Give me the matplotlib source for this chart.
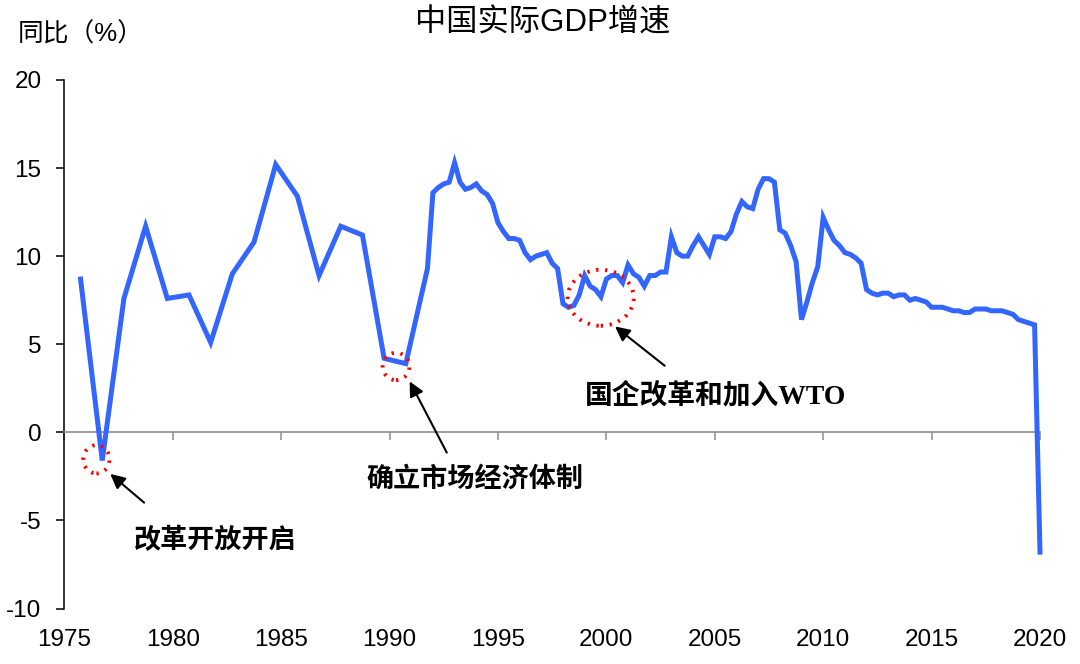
import matplotlib
matplotlib.use("Agg")
import matplotlib.pyplot as plt
from matplotlib.patches import Ellipse

# ---------------- data ----------------
annual_years = [1975, 1976, 1977, 1978, 1979, 1980, 1981, 1982, 1983,
                1984, 1985, 1986, 1987, 1988, 1989, 1990, 1991]
annual_growth = [8.7, -1.6, 7.6, 11.7, 7.6, 7.8, 5.1, 9.0, 10.8,
                 15.2, 13.4, 8.9, 11.7, 11.2, 4.2, 3.9, 9.3]

quarter_start_year = 1992
quarterly_growth = [
    13.6, 13.9, 14.1, 14.2,   # 1992
    15.3, 14.2, 13.8, 13.9,   # 1993
    14.1, 13.7, 13.5, 13.0,   # 1994
    11.9, 11.4, 11.0, 11.0,   # 1995
    10.9, 10.2, 9.8, 10.0,    # 1996
    10.1, 10.2, 9.6, 9.3,     # 1997
    7.3, 7.1, 7.2, 7.8,       # 1998
    8.9, 8.3, 8.1, 7.7,       # 1999
    8.7, 8.9, 8.9, 8.5,       # 2000
    9.5, 9.0, 8.8, 8.3,       # 2001
    8.9, 8.9, 9.1, 9.1,       # 2002
    11.1, 10.2, 10.0, 10.0,   # 2003
    10.6, 11.1, 10.6, 10.1,   # 2004
    11.1, 11.1, 11.0, 11.4,   # 2005
    12.4, 13.1, 12.8, 12.7,   # 2006
    13.8, 14.4, 14.4, 14.2,   # 2007
    11.5, 11.3, 10.6, 9.7,    # 2008
    6.4, 7.4, 8.5, 9.4,       # 2009
    12.2, 11.5, 10.9, 10.6,   # 2010
    10.2, 10.1, 9.9, 9.6,     # 2011
    8.1, 7.9, 7.8, 7.9,       # 2012
    7.9, 7.7, 7.8, 7.8,       # 2013
    7.5, 7.6, 7.5, 7.4,       # 2014
    7.1, 7.1, 7.1, 7.0,       # 2015
    6.9, 6.9, 6.8, 6.8,       # 2016
    7.0, 7.0, 7.0, 6.9,       # 2017
    6.9, 6.9, 6.8, 6.7,       # 2018
    6.4, 6.3, 6.2, 6.1,       # 2019
    -6.8,                     # 2020 Q1
]

x_ticks = [1975, 1980, 1985, 1990, 1995, 2000, 2005, 2010, 2015, 2020]
y_ticks = [-10, -5, 0, 5, 10, 15, 20]

title = "中国实际GDP增速"
ylabel = "同比（%）"
notes = ["改革开放开启", "确立市场经济体制", "国企改革和加入WTO"]

# ---------------- build series ----------------
xs = [y + 0.75 for y in annual_years]
ys = list(annual_growth)
for i, v in enumerate(quarterly_growth):
    xs.append(quarter_start_year + i // 4 + (i % 4) / 4.0)
    ys.append(v)

# ---------------- figure ----------------
plt.rcParams['font.family'] = ['Liberation Sans', 'Noto Sans CJK SC']
fig = plt.figure(figsize=(10.8, 6.64), dpi=100)
W, H = 1080, 664
ax_left, ax_right = 64.3 / W, 1040 / W
ax_top, ax_bot = 1 - 80 / H, 1 - 608.5 / H
ax = fig.add_axes([ax_left, ax_bot, ax_right - ax_left, ax_top - ax_bot])

ax.plot(xs, ys, color='#3366FF', lw=3.6, solid_joinstyle='miter',
        clip_on=False, zorder=3)

ax.set_xlim(1975, 2020)
ax.set_ylim(-10, 20)

# spines
for s in ['top', 'right']:
    ax.spines[s].set_visible(False)
ax.spines['left'].set_color('black')
ax.spines['left'].set_linewidth(1.1)
ax.spines['bottom'].set_position(('data', 0))
ax.spines['bottom'].set_color('#8c8c8c')
ax.spines['bottom'].set_linewidth(1.2)

ax.set_yticks(y_ticks)
ax.set_yticklabels([str(t) for t in y_ticks])
ax.tick_params(axis='y', direction='out', length=5.5, width=1.1,
               color='black', labelsize=17.5, pad=11)

ax.set_xticks(x_ticks)
ax.tick_params(axis='x', direction='out', length=5.5, width=1.1,
               color='#8c8c8c', labelbottom=False)

sec = ax.secondary_xaxis('bottom')
sec.set_xticks(x_ticks)
sec.set_xticklabels([str(t) for t in x_ticks])
sec.tick_params(axis='x', length=0, labelsize=17.5, pad=15)
sec.spines['bottom'].set_visible(False)

# title and y label
fig.text(543 / W, 1 - 23 / H, title, ha='center', va='center',
         fontsize=22.5, family=['Liberation Sans', 'Noto Sans CJK SC'])
fig.text(18 / W, 1 - 34 / H, ylabel, ha='left', va='center',
         fontsize=18.5, family=['Liberation Sans', 'Noto Sans CJK SC'])

# red dotted circles
red_kw = dict(fill=False, edgecolor='#FF0000', lw=2.8,
              linestyle=(0, (0.6, 1.7)), zorder=4, clip_on=False)
ax.add_patch(Ellipse((1976.48, -1.53), 1.21, 1.61, **red_kw))
ax.add_patch(Ellipse((1990.30, 3.74), 1.24, 1.55, **red_kw))
ax.add_patch(Ellipse((1999.74, 7.64), 3.05, 3.18, **red_kw))

# arrows
arr = dict(arrowstyle='-|>', color='black', lw=1.5, mutation_scale=22,
           shrinkA=0, shrinkB=0)
ax.annotate('', xy=(1977.12, -2.36), xytext=(1978.68, -3.99), arrowprops=arr)
ax.annotate('', xy=(1990.93, 2.89), xytext=(1992.64, -1.15), arrowprops=arr)
ax.annotate('', xy=(2000.40, 6.01), xytext=(2002.69, 3.78), arrowprops=arr)

note_font = ['Liberation Serif', 'Noto Sans CJK SC']
ax.text(1978.21, -6.15, notes[0], ha='left', va='center', fontsize=19.5,
        fontweight='bold', family=note_font)
ax.text(1988.94, -2.70, notes[1], ha='left', va='center', fontsize=19.5,
        fontweight='bold', family=note_font)
ax.text(1999.0, 2.03, notes[2], ha='left', va='center', fontsize=20,
        fontweight='bold', family=note_font)

fig.savefig('out.png', dpi=100)
